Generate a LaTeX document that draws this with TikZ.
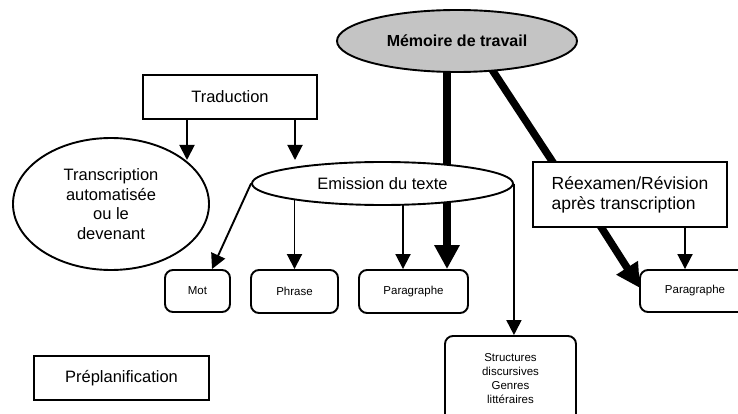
\documentclass[tikz,border=0pt]{standalone}
\usepackage{fontspec}
\setmainfont{Liberation Sans}
\usetikzlibrary{arrows.meta,shapes.geometric,backgrounds}
\definecolor{memgray}{RGB}{196,196,196}
\begin{document}
\begin{tikzpicture}[x=1pt,y=-1pt,
  big/.style={font=\fontsize{16.5}{19.5}\selectfont},
  small/.style={font=\fontsize{11.5}{14}\selectfont},
  box/.style={draw,line width=1.9pt,fill=white,inner sep=0pt,align=center},
  rbox/.style={box,rounded corners=8pt},
  ell/.style={draw,ellipse,line width=1.9pt,fill=white,inner sep=0pt,align=center},
  arr/.style={line width=1.9pt,-{Triangle[width=15pt,length=15pt]}},
  bigarr/.style={line width=7.5pt,-{Triangle[width=24pt,length=24pt]}},
  thickline/.style={line width=7.5pt}]
\useasboundingbox (0,0) rectangle (738,414);
\clip (0,0) rectangle (738,414);

% nodes
\node[ell,fill=memgray,minimum width=240pt,minimum height=62pt,
      font=\fontsize{16}{19}\selectfont\bfseries] (mem) at (457,41) {Mémoire de travail};
\node[box,big,minimum width=174pt,minimum height=44pt] (trad) at (230,97) {Traduction};
\node[ell,big,minimum width=196pt,minimum height=132pt] (trans) at (111,204)
  {Transcription\\automatisée\\ou le\\devenant};
\node[ell,big,minimum width=261pt,minimum height=43pt] (emis) at (382.5,183.5) {Emission du texte};
\node[box,font=\fontsize{17.5}{20}\selectfont,align=left,minimum width=194pt,minimum height=65pt] (rev) at (630,194.5)
  {Réexamen/Révision\\après transcription};
\node[rbox,small,minimum width=65pt,minimum height=42pt] (mot) at (197.5,291) {Mot};
\node[rbox,small,minimum width=87pt,minimum height=43pt] (phr) at (294.5,291.5) {Phrase};
\node[rbox,small,minimum width=109pt,minimum height=43pt] (par1) at (413.5,291.5) {Paragraphe};
\node[rbox,small,minimum width=110pt,minimum height=42pt] (par2) at (695,291) {Paragraphe};
\node[rbox,small,minimum width=131pt,minimum height=86pt] (str) at (510.5,379)
  {Structures\\discursives\\Genres\\littéraires};
\node[box,big,minimum width=175pt,minimum height=44pt] (pre) at (121.5,378) {Préplanification};

% helper coordinates
\coordinate (t1) at (187,160);
\coordinate (t2) at (295,160);
\coordinate (m1) at (212,0);
\coordinate (p1) at (403,0);
\coordinate (p2) at (447,0);
\coordinate (d1) at (487,62);
\coordinate (d2) at (556,167);
\coordinate (r0) at (594,216);
\coordinate (r2) at (640,288);
\coordinate (q1) at (685,0);

% connectors
\draw[arr] (trad.south -| t1) -- (t1);
\draw[arr] (trad.south -| t2) -- (t2);
\draw[arr] (rev.south -| q1) -- (par2.north -| q1);

\begin{pgfonlayer}{background}
  \draw[arr] (emis.west) -- (mot.north -| m1);
  \draw[arr] (emis.center -| phr.north) -- (phr.north);
  \draw[arr] (emis.center -| p1) -- (par1.north -| p1);
  \draw[arr] (emis.east) -- (str.north -| emis.east);
  \draw[bigarr] (mem.center -| p2) -- (par1.north -| p2);
  \draw[thickline] (d1) -- (d2);
  \draw[bigarr] (r0) -- (r2);
\end{pgfonlayer}
\end{tikzpicture}
\end{document}
